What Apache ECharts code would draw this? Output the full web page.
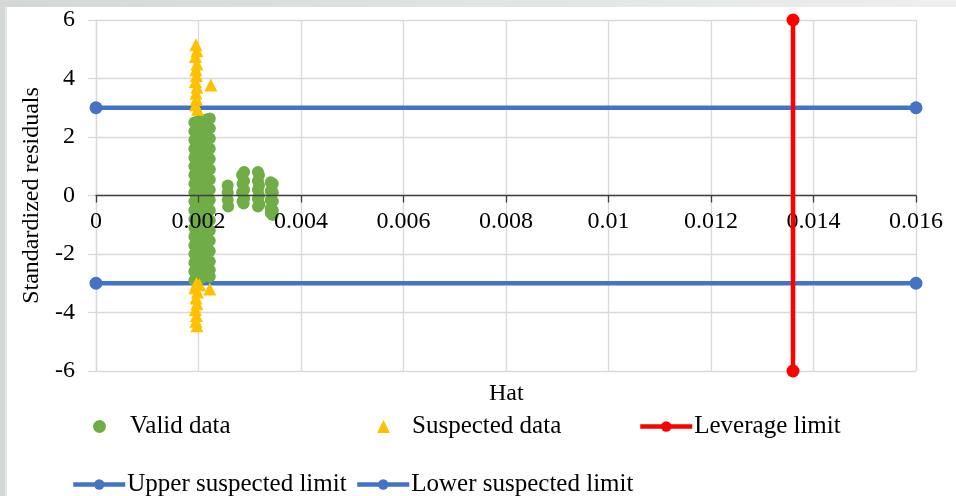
<html>
<head>
    <meta charset="utf-8">
    <script src='https://cdn.jsdelivr.net/npm/echarts@6/dist/echarts.min.js'></script>
    <style>
        html, body {
            margin: 0;
            padding: 0;
            width: 956px;
            height: 496px;
            overflow: hidden;
            background: linear-gradient(to right, #d3d7d7, #eef0f0);
        }
        #paper {
            position: absolute;
            left: 5px;
            top: 7px;
            right: 0;
            bottom: 0;
            background: #fff;
            border-left: 2px solid #e6e8e8;
        }
        #main {
            position: absolute;
            left: 0;
            top: 0;
            width: 956px;
            height: 496px;
        }
    </style>
</head>
<body>
<div id="paper"></div>
<div id="main"></div>

<script>
    // hat axis
    var hatMin = 0, hatMax = 0.016, hatStep = 0.002;
    // residual axis
    var resMin = -6, resMax = 6, resStep = 2;

    // valid data, dense column near h = 0.002 (hat, standardized residual)
    var validColumn = [
        [0.00192, 2.5], [0.00192, 2.2], [0.00192, 1.9], [0.00192, 1.6], [0.00192, 1.3], [0.00192, 1.0], [0.00192, 0.7],
        [0.00192, 0.4], [0.00192, 0.1], [0.00192, -0.2], [0.00192, -0.5], [0.00192, -0.8], [0.00192, -1.1], [0.00192, -1.4],
        [0.00192, -1.7], [0.00192, -2.0], [0.00192, -2.3], [0.00192, -2.6], [0.00192, -2.9],
        [0.00200, 2.55], [0.00200, 2.25], [0.00200, 1.95], [0.00200, 1.65], [0.00200, 1.35], [0.00200, 1.05], [0.00200, 0.75],
        [0.00200, 0.45], [0.00200, 0.15], [0.00200, -0.15], [0.00200, -0.45], [0.00200, -0.75], [0.00200, -1.05], [0.00200, -1.35],
        [0.00200, -1.65], [0.00200, -1.95], [0.00200, -2.25], [0.00200, -2.55], [0.00200, -2.85],
        [0.00208, 2.5], [0.00208, 2.2], [0.00208, 1.9], [0.00208, 1.6], [0.00208, 1.3], [0.00208, 1.0], [0.00208, 0.7],
        [0.00208, 0.4], [0.00208, 0.1], [0.00208, -0.2], [0.00208, -0.5], [0.00208, -0.8], [0.00208, -1.1], [0.00208, -1.4],
        [0.00208, -1.7], [0.00208, -2.0], [0.00208, -2.3], [0.00208, -2.6], [0.00208, -2.8],
        [0.00215, 2.6], [0.00215, 2.3], [0.00215, 2.0], [0.00215, 1.7], [0.00215, 1.4], [0.00215, 1.1], [0.00215, 0.8],
        [0.00215, 0.5], [0.00215, 0.2], [0.00215, -0.1], [0.00215, -0.4], [0.00215, -0.7], [0.00215, -1.0], [0.00215, -1.3],
        [0.00215, -1.6], [0.00215, -1.9], [0.00215, -2.2], [0.00215, -2.5], [0.00215, -2.75],
        [0.00222, 2.63], [0.00222, 2.3], [0.00222, 1.95], [0.00222, 1.6], [0.00222, 1.25], [0.00222, 0.9], [0.00222, 0.55],
        [0.00222, 0.2], [0.00222, -0.15], [0.00222, -0.5], [0.00222, -0.85], [0.00222, -1.2], [0.00222, -1.55], [0.00222, -1.9],
        [0.00222, -2.25], [0.00222, -2.55], [0.00222, -2.77]
    ];

    // valid data, small groups to the right
    var validTail = [
        [0.00257, 0.34], [0.00257, 0.1], [0.00257, -0.15], [0.00258, -0.38],
        [0.00285, 0.7], [0.00286, 0.4], [0.00285, 0.1], [0.00286, -0.2],
        [0.00289, 0.8], [0.00289, 0.5], [0.00289, 0.2], [0.00289, -0.1], [0.00288, -0.27],
        [0.00316, 0.8], [0.00316, 0.5], [0.00316, 0.2], [0.00316, -0.1], [0.00316, -0.38],
        [0.00318, 0.7], [0.00318, 0.35], [0.00318, 0.0], [0.00319, -0.3],
        [0.00341, 0.45], [0.00341, 0.15], [0.00341, -0.15], [0.00341, -0.45], [0.00341, -0.6],
        [0.00345, 0.4], [0.00345, 0.1], [0.00345, -0.2], [0.00345, -0.5], [0.00345, -0.67]
    ];

    // suspected data
    var suspectedHigh = [
        [0.00195, 5.15], [0.00197, 4.95], [0.00194, 4.75], [0.00197, 4.5], [0.00195, 4.3], [0.00196, 4.1],
        [0.00194, 3.9], [0.00197, 3.7], [0.00195, 3.5], [0.00196, 3.3], [0.00194, 3.1], [0.00198, 2.95],
        [0.00224, 3.78]
    ];
    var suspectedLow = [
        [0.00196, -3.0], [0.00193, -3.15], [0.00198, -3.3], [0.00195, -3.5], [0.00197, -3.7], [0.00194, -3.9],
        [0.00196, -4.1], [0.00195, -4.3], [0.00197, -4.45], [0.00222, -3.2], [0.00202, -3.05]
    ];

    // limits
    var leverageLimit = [[0.0136, -6], [0.0136, 6]];
    var upperLimit = [[0, 3], [0.016, 3]];
    var lowerLimit = [[0, -3], [0.016, -3]];

    var serif = 'Liberation Serif';

    // scatter legend: small icon, text pushed right
    function markerLegend(name, left, top, gap) {
        return {
            data: [name],
            left: left,
            top: top,
            padding: 0,
            itemWidth: 13,
            itemHeight: 13,
            selectedMode: false,
            textStyle: {fontFamily: serif, fontSize: 25, color: '#000', padding: [0, 0, 0, gap]}
        };
    }

    // line legend: line with a dot
    function lineLegend(name, left, top) {
        return {
            data: [name],
            left: left,
            top: top,
            padding: 0,
            itemWidth: 52,
            itemHeight: 13,
            selectedMode: false,
            lineStyle: {width: 4.5},
            textStyle: {fontFamily: serif, fontSize: 25, color: '#000', padding: [0, 0, 0, -3]}
        };
    }

    var chart = echarts.init(document.getElementById('main'));

    var option = {
        backgroundColor: 'transparent',
        animation: false,
        grid: {left: 96, top: 20, right: 40, bottom: 125, containLabel: false},
        xAxis: [
            {
                // grid lines only
                type: 'value',
                min: hatMin,
                max: hatMax,
                interval: hatStep,
                axisLine: {show: false},
                axisTick: {show: false},
                axisLabel: {show: false},
                splitLine: {show: true, lineStyle: {color: '#d9d9d9', width: 1.3}}
            },
            {
                // axis line at zero with labels, drawn above the points
                type: 'value',
                position: 'bottom',
                min: hatMin,
                max: hatMax,
                interval: hatStep,
                offset: -175.5,
                z: 3,
                axisLine: {show: true, onZero: false, lineStyle: {color: '#404040', width: 1.3}},
                axisTick: {show: true, length: 7, lineStyle: {color: '#404040', width: 1.3}},
                axisLabel: {fontFamily: serif, fontSize: 24, color: '#000', margin: 14},
                splitLine: {show: false}
            }
        ],
        yAxis: {
            type: 'value',
            min: resMin,
            max: resMax,
            interval: resStep,
            name: 'Standardized residuals',
            nameLocation: 'middle',
            nameGap: 48,
            nameTextStyle: {fontFamily: serif, fontSize: 24, color: '#000'},
            axisLine: {show: true, lineStyle: {color: '#d9d9d9', width: 1.3}},
            axisTick: {show: true, length: 8, lineStyle: {color: '#d9d9d9', width: 1.3}},
            axisLabel: {fontFamily: serif, fontSize: 24, color: '#000', margin: 21},
            splitLine: {show: true, lineStyle: {color: '#d9d9d9', width: 1.3}}
        },
        legend: [
            markerLegend('Valid data', 93, 414, 19),
            markerLegend('Suspected data', 377, 414, 17),
            lineLegend('Leverage limit', 638, 414),
            lineLegend('Upper suspected limit', 71, 472),
            lineLegend('Lower suspected limit', 355, 472)
        ],
        graphic: [{
            type: 'text',
            left: 489,
            top: 382,
            style: {text: 'Hat', fontFamily: serif, fontSize: 24, fill: '#000'}
        }],
        series: [
            {
                name: 'Upper suspected limit',
                type: 'line',
                data: upperLimit,
                symbol: 'circle',
                symbolSize: 13,
                clip: false,
                z: 1,
                lineStyle: {color: '#4472C4', width: 4.5},
                itemStyle: {color: '#4472C4'}
            },
            {
                name: 'Lower suspected limit',
                type: 'line',
                data: lowerLimit,
                symbol: 'circle',
                symbolSize: 13,
                clip: false,
                z: 1,
                lineStyle: {color: '#4472C4', width: 4.5},
                itemStyle: {color: '#4472C4'}
            },
            {
                name: 'Valid data',
                type: 'scatter',
                data: validColumn.concat(validTail),
                symbol: 'circle',
                symbolSize: 12,
                z: 2,
                itemStyle: {color: '#70AD47', opacity: 1}
            },
            {
                name: 'Suspected data',
                type: 'scatter',
                data: suspectedHigh.concat(suspectedLow),
                symbol: 'triangle',
                symbolSize: 13,
                z: 2,
                itemStyle: {color: '#FFC000', opacity: 1}
            },
            {
                name: 'Leverage limit',
                type: 'line',
                data: leverageLimit,
                symbol: 'circle',
                symbolSize: 13,
                clip: false,
                z: 4,
                lineStyle: {color: '#FF0000', width: 4.5},
                itemStyle: {color: '#FF0000'}
            }
        ]
    };

    chart.setOption(option);
</script>
</body>
</html>
